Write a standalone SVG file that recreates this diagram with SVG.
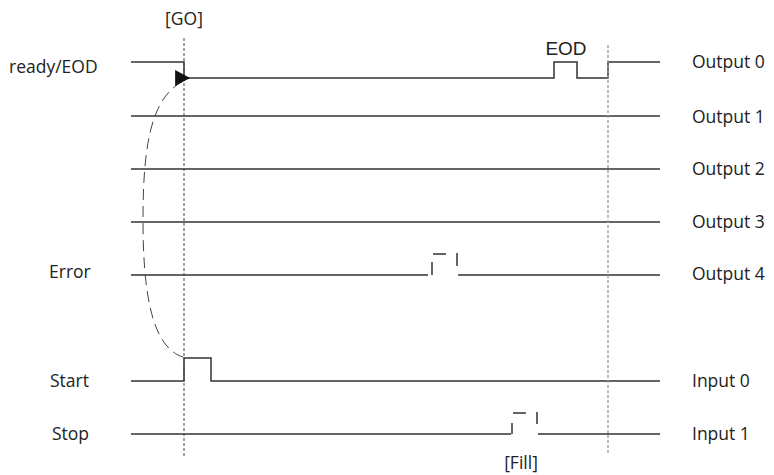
<svg xmlns="http://www.w3.org/2000/svg" width="774" height="475" viewBox="0 0 774 475">
<style>
.sig{fill:none;stroke:#333;stroke-width:1.5}
.lbl{font-family:"Open Sans","Noto Sans",sans-serif;font-size:17.5px;fill:#222}
.eod{font-family:"Liberation Sans",Arial,sans-serif;font-size:19px;fill:#222}
.vd{fill:none;stroke:#444;stroke-width:1;stroke-dasharray:3 2}
.vd2{fill:none;stroke:#999;stroke-width:1.3;stroke-dasharray:3 2}
.cur{fill:none;stroke:#444;stroke-width:1;stroke-dasharray:11 6}
</style>
<defs>
<marker id="ah" markerUnits="userSpaceOnUse" markerWidth="16" markerHeight="16" viewBox="0 0 14 14" refX="13" refY="7" orient="0">
<path d="M0,0 L13,7 L0,14 Z" fill="#111"/>
</marker>
</defs>
<g id="labels">
<text class="lbl" x="184" y="25" text-anchor="middle">[GO]</text>
<text class="eod" x="566" y="55" text-anchor="middle">EOD</text>
<text class="lbl" x="9" y="73">ready/EOD</text>
<text class="lbl" x="49" y="278">Error</text>
<text class="lbl" x="50" y="387">Start</text>
<text class="lbl" x="52" y="440">Stop</text>
<text class="lbl" x="521" y="469" text-anchor="middle">[Fill]</text>
<text class="lbl" x="692" y="68">Output 0</text>
<text class="lbl" x="692" y="123">Output 1</text>
<text class="lbl" x="692" y="175">Output 2</text>
<text class="lbl" x="692" y="228">Output 3</text>
<text class="lbl" x="692" y="280">Output 4</text>
<text class="lbl" x="692" y="387">Input 0</text>
<text class="lbl" x="692" y="440">Input 1</text>
</g>
<g id="signals">
<g id="sig-out0"><path class="sig" d="M131,62 H184 V78 H554 V62 H577 V78 H608 V62 H660"/></g>
<g id="sig-out1"><path class="sig" d="M131,116 H660"/></g>
<g id="sig-out2"><path class="sig" d="M131,169 H660"/></g>
<g id="sig-out3"><path class="sig" d="M131,222 H660"/></g>
<g id="sig-out4"><path class="sig" d="M131,275 H428 M432,262 V275 M433,254 H446 M457,253 V266 M458,275 H660"/></g>
<g id="sig-in0"><path class="sig" d="M131,381 H184 V358 H211 V381 H660"/></g>
<g id="sig-in1"><path class="sig" d="M131,434 H511 M512,423 V434 M513,413 H526 M537,412 V424 M538,434 H660"/></g>
</g>
<g id="connectors">
<path class="vd" d="M184,38 V456"/>
<path class="vd2" d="M608,45 V455"/>
<path class="cur" d="M183,357 C151,347 143,290 143,220 C143,140 152,92 190,78" marker-end="url(#ah)"/>
</g>
</svg>
